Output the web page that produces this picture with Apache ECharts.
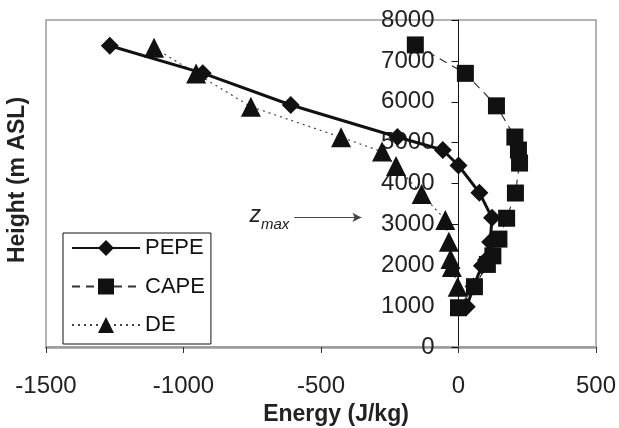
<!DOCTYPE html>
<html>
<head>
<meta charset="utf-8">
<script src="https://cdn.jsdelivr.net/npm/echarts@6/dist/echarts.min.js"></script>
<style>html,body{margin:0;padding:0;background:#fff}#c{width:619px;height:428px}</style>
</head>
<body>
<div id="c"></div>
<script>
// ---- data (Energy in J/kg, Height in m ASL) ----
const seriesNames = ['PEPE', 'CAPE', 'DE'];
const pepeHeight = [7370, 6700, 5920, 5137, 4819, 4440, 3775, 3160, 2570, 2130, 1990, 1480, 985];
const pepeEnergy = [-1268, -930, -610, -222, -57, 0, 76, 122, 115, 100, 85, 55, 30];
const capeHeight = [7390, 6695, 5900, 5137, 4819, 4500, 3767, 3150, 2640, 2230, 2020, 1475, 960];
const capeEnergy = [-157, 25, 138, 205, 218, 222, 207, 175, 147, 125, 105, 58, 0];
const deHeight = [7320, 6690, 5880, 5130, 4780, 4430, 3745, 3110, 2576, 2150, 1960, 1475];
const deEnergy = [-1107, -954, -755, -427, -278, -227, -134, -48, -35, -29, -24, -3];
const xTicks = { min: -1500, max: 500, interval: 500 };
const yTicks = { min: 0, max: 8000, interval: 1000 };
const zmaxArrow = { fromEnergy: -597, toEnergy: -353, height: 3170 };

const FONT = '"Liberation Sans", Arial, Helvetica, sans-serif';
const GRID_LEFT = 46;
function pairs(xs, ys) { return xs.map((x, i) => [x, ys[i]]); }
function plain(v) { return String(v); }

const chart = echarts.init(document.getElementById('c'));
chart.setOption({
  animation: false,
  backgroundColor: '#fff',
  grid: { left: GRID_LEFT, right: 23, top: 20, bottom: 81, show: true, borderColor: '#9a9a9a', borderWidth: 1.5, containLabel: false, outerBoundsMode: 'none' },
  xAxis: {
    type: 'value', min: xTicks.min, max: xTicks.max, interval: xTicks.interval,
    axisLine: { show: true, onZero: false, lineStyle: { color: '#9a9a9a', width: 2.5 } },
    axisTick: { show: true, length: 6, lineStyle: { color: '#333', width: 1 } },
    axisLabel: { fontSize: 24, color: '#222', fontFamily: FONT, margin: 27, formatter: plain },
    splitLine: { show: false },
    name: 'Energy (J/kg)', nameLocation: 'middle', nameGap: 51,
    nameTextStyle: { fontSize: 23, fontWeight: 'bold', color: '#222', fontFamily: FONT, padding: [0, 0, 0, 30] }
  },
  yAxis: {
    type: 'value', min: yTicks.min, max: yTicks.max, interval: yTicks.interval,
    position: 'left', offset: 0,
    axisLine: { show: true, onZero: false, lineStyle: { color: '#111', width: 1 } },
    axisTick: { show: true, length: 7, inside: false, lineStyle: { color: '#111', width: 1 } },
    axisLabel: { fontSize: 24, color: '#222', fontFamily: FONT, margin: 24, formatter: plain },
    splitLine: { show: false }
  },
  legend: {
    orient: 'vertical', left: 63, top: 233,
    padding: [4, 6, 8, 8], itemWidth: 68, itemHeight: 20, itemGap: 16.5,
    borderColor: '#111', borderWidth: 1, backgroundColor: '#fff',
    textStyle: { fontSize: 22, color: '#111', fontFamily: FONT, lineHeight: 20 },
    data: seriesNames
  },
  graphic: [{
    type: 'text', rotation: Math.PI / 2,
    x: 18, y: 180,
    style: { text: 'Height (m ASL)', font: 'bold 23px ' + FONT, fill: '#222', textAlign: 'center', textVerticalAlign: 'middle' }
  }],
  series: [
    {
      name: 'DE', type: 'line', z: 2, data: pairs(deEnergy, deHeight),
      symbol: 'triangle', symbolSize: 20, showSymbol: true,
      itemStyle: { color: '#111' },
      lineStyle: { color: '#444', width: 1.2, type: [2, 4] },
      emphasis: { disabled: true }
    },
    {
      name: 'PEPE', type: 'line', z: 3, data: pairs(pepeEnergy, pepeHeight),
      symbol: 'diamond', symbolSize: 18,
      itemStyle: { color: '#111' },
      lineStyle: { color: '#111', width: 3, type: 'solid' },
      emphasis: { disabled: true }
    },
    {
      name: 'CAPE', type: 'line', z: 4, data: pairs(capeEnergy, capeHeight),
      symbol: 'rect', symbolSize: 17,
      itemStyle: { color: '#111' },
      lineStyle: { color: '#333', width: 1.2, type: [8, 6] },
      emphasis: { disabled: true }
    },
    {
      name: 'zmax', type: 'line', data: [], silent: true,
      markLine: {
        silent: true, animation: false,
        symbol: ['none', 'arrow'], symbolSize: [7, 9],
        lineStyle: { color: '#444', width: 1, type: 'solid' },
        label: {
          show: true, position: 'start', distance: 5,
          formatter: '{z|z}{s|max}',
          rich: {
            z: { fontSize: 23, fontStyle: 'italic', color: '#222', fontFamily: FONT, padding: [0, 0, 4, 0] },
            s: { fontSize: 15, fontStyle: 'italic', color: '#222', fontFamily: FONT, verticalAlign: 'bottom', padding: [14, 0, 0, 0] }
          }
        },
        data: [[
          { coord: [zmaxArrow.fromEnergy, zmaxArrow.height] },
          { coord: [zmaxArrow.toEnergy, zmaxArrow.height] }
        ]]
      }
    }
  ]
});
// place the vertical axis where Energy = 0, using the x scale of the chart
const zeroPx = chart.convertToPixel({ xAxisIndex: 0 }, 0);
chart.setOption({ yAxis: { offset: -(zeroPx - GRID_LEFT) } });
</script>
</body>
</html>
